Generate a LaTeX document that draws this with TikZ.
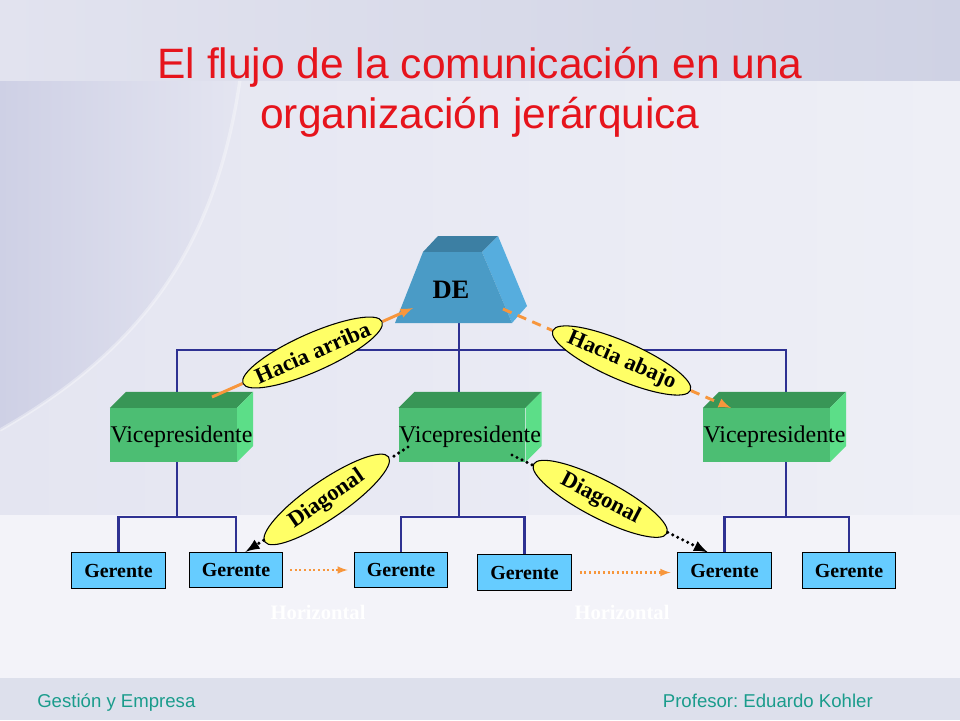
\documentclass[tikz,border=0pt]{standalone}
\usepackage{fontspec}
\setmainfont{Liberation Serif}
\newfontfamily\arialfont{Liberation Sans}
\usepackage{xcolor}
\usetikzlibrary{calc,arrows,shapes.geometric}
\frenchspacing
\definecolor{titlered}{RGB}{230,20,28}
\definecolor{footteal}{RGB}{26,156,140}
\definecolor{navyline}{RGB}{46,49,146}
\definecolor{detopc}{RGB}{60,127,163}
\definecolor{defrontc}{RGB}{74,155,198}
\definecolor{desidec}{RGB}{86,173,222}
\definecolor{vptopc}{RGB}{56,150,86}
\definecolor{vpfrontc}{RGB}{76,190,115}
\definecolor{vpsidec}{RGB}{92,222,136}
\definecolor{gerfill}{RGB}{102,204,255}
\definecolor{bubblefill}{RGB}{255,255,102}
\definecolor{arrorange}{RGB}{247,150,60}
\definecolor{bgbase}{RGB}{238,239,246}
\definecolor{bgmid}{RGB}{228,229,241}
\definecolor{bgleft}{RGB}{206,208,229}
\definecolor{bglow}{RGB}{243,243,249}
\definecolor{bgtopl}{RGB}{226,227,239}
\definecolor{bgtopr}{RGB}{207,210,228}
\definecolor{footbg}{RGB}{221,224,236}
\tikzset{
  orgline/.style={draw=navyline,line width=2.2pt},
  titletext/.style={text=titlered,inner sep=0pt,font=\arialfont\fontsize{32}{32}\selectfont},
  foottext/.style={text=footteal,inner sep=0pt,font=\arialfont\fontsize{14}{14}\selectfont},
  gerbox/.style={draw=black,line width=0.8pt,fill=gerfill,minimum width=70.5pt,minimum height=26.5pt,inner sep=0pt,font=\bfseries\fontsize{15}{15}\selectfont},
  vpfront/.style={fill=vpfrontc,minimum width=95.25pt,minimum height=40.5pt,inner sep=0pt},
  vptext/.style={inner sep=0pt,font=\fontsize{18}{18}\selectfont},
  bubble/.style={ellipse,draw=black,line width=0.8pt,fill=bubblefill,minimum width=113pt,minimum height=28.5pt,inner sep=-6pt,font=\bfseries\fontsize{17}{17}\selectfont},
  uparrow/.style={draw=arrorange,line width=2.2pt},
  downarrow/.style={draw=arrorange,line width=2.2pt,dash pattern=on 7pt off 5pt},
  diagarrow/.style={draw=black,line width=2.6pt,line cap=round,dash pattern=on 0pt off 4.2pt},
  horizarrow/.style={draw=arrorange,line width=1.6pt,dash pattern=on 1.5pt off 2pt},
  horiztext/.style={text=white,inner sep=0pt,font=\bfseries\fontsize{15.5}{15.5}\selectfont}
}
\begin{document}
\begin{tikzpicture}[x=0.02646cm,y=-0.02646cm]
  \useasboundingbox (0,0) rectangle (960,720);
  % background
  \fill[bgbase] (0,0) rectangle (960,720);
  \shade[left color=bgmid,right color=bgbase] (0,80) rectangle (960,515);
  \shade[left color=bgleft,right color=bgmid] (0,80) -- (240,80) .. controls (215,250) and (140,350) .. (0,430) -- cycle;
  \draw[white,opacity=0.35,line width=2.5pt] (240,80) .. controls (215,250) and (140,350) .. (0,430);
  \shade[left color=bgtopl,right color=bgtopr] (0,0) rectangle (960,80);
  \fill[bglow] (0,515) rectangle (960,678);
  \fill[footbg] (0,678) rectangle (960,720);
  % title
  \node[titletext,anchor=base] (title1) at (480,78) {El flujo de la comunicación en una};
  \node[titletext,anchor=base] (title2) at (480,128) {organización jerárquica};
  % tree lines
  \draw[orgline] (459,323) -- (459,392);
  \draw[orgline] (177,392) |- (786,350) -- (786,392);
  % DE
  \fill[detopc] (423,252) -- (438,236) -- (498,236) -- (482,252) -- cycle;
  \fill[desidec] (482,252) -- (498,236) -- (527,306) -- (512,323) -- cycle;
  \fill[defrontc] (395,323) -- (423,252) -- (482,252) -- (512,323) -- cycle;
  \node[font=\bfseries\fontsize{20}{20}\selectfont,inner sep=0pt] (de) at (451,290) {DE};
  % vicepresidentes
  \node[vpfront] (vp1) at (173.5,435) {};
  \node[vpfront] (vp2) at (462,435) {};
  \node[vpfront] (vp3) at (766.5,435) {};
  \foreach \v in {vp1,vp2,vp3} {
    \fill[vptopc] (\v.north west) -- ++(16,-16) -- ($(\v.north east)+(16,-16)$) -- (\v.north east) -- cycle;
    \fill[vpsidec] (\v.north east) -- ++(16,-16) -- ($(\v.south east)+(16,-16)$) -- (\v.south east) -- cycle;
    \node[vptext] (\v-t) at ($(\v.center)+(8,2)$) {Vicepresidente};
  }
  % gerentes
  \node[gerbox] (g1) at (118.5,570.5) {Gerente};
  \node[gerbox] (g2) at (236,570) {Gerente};
  \node[gerbox] (g3) at (401,570) {Gerente};
  \node[gerbox] (g4) at (524.5,572.5) {Gerente};
  \node[gerbox] (g5) at (724.5,570.5) {Gerente};
  \node[gerbox] (g6) at (849,570.5) {Gerente};
  \foreach \x/\a/\b in {177/g1/g2,459/g3/g4,786/g5/g6}
    \draw[orgline] (\x,462) -- (\x,517) (\a.north) |- (\x,517) -| (\b.north);
  % communication
  \coordinate (vp1top) at (212,397);
  \coordinate (deleft) at (413,308);
  \coordinate (deright) at (503,309);
  \coordinate (vp3top) at (731,408);
  \coordinate (vp2left) at (408,447);
  \coordinate (vp2right) at (512,455);
  \coordinate (g2top) at ($(g2.north)!0.2!(g2.north east)$);
  \coordinate (g5top) at ($(g5.north)!0.35!(g5.north west)$);
  \node[bubble,rotate=24] (arriba) at ($(vp1top)!0.5!(deleft)$) {Hacia arriba};
  \draw[uparrow] (vp1top) -- (arriba);
  \draw[uparrow,-latex] (arriba) -- (deleft);
  \node[bubble,rotate=-23.5] (abajo) at ($(deright)!0.52!(vp3top)$) {Hacia abajo};
  \draw[downarrow] (deright) -- (abajo);
  \draw[downarrow,-latex] (abajo) -- (vp3top);
  \node[bubble,rotate=34.5] (diag1) at ($(vp2left)!0.5!(g2top)$) {Diagonal};
  \draw[diagarrow] (vp2left) -- (diag1);
  \draw[diagarrow,-latex] (diag1) -- (g2top);
  \node[bubble,rotate=-27.5] (diag2) at ($(vp2right)!0.45!(g5top)$) {Diagonal};
  \draw[diagarrow] (vp2right) -- (diag2);
  \draw[diagarrow,-latex] (diag2) -- (g5top);
  \draw[horizarrow,-latex,shorten <=5pt,shorten >=4.5pt] (g2.east) -- (g3.west);
  \draw[horizarrow,-latex,shorten <=6pt,shorten >=5pt] (g4.east) -- (g4.east -| g5.west);
  \node[horiztext] (horiz1) at (318,612) {Horizontal};
  \node[horiztext] (horiz2) at (622,612) {Horizontal};
  % footer
  \node[foottext,anchor=base west] (course) at (37,707) {Gestión y Empresa};
  \node[foottext,anchor=base east] (teacher) at (873,707) {Profesor: Eduardo Kohler};
\end{tikzpicture}
\end{document}
